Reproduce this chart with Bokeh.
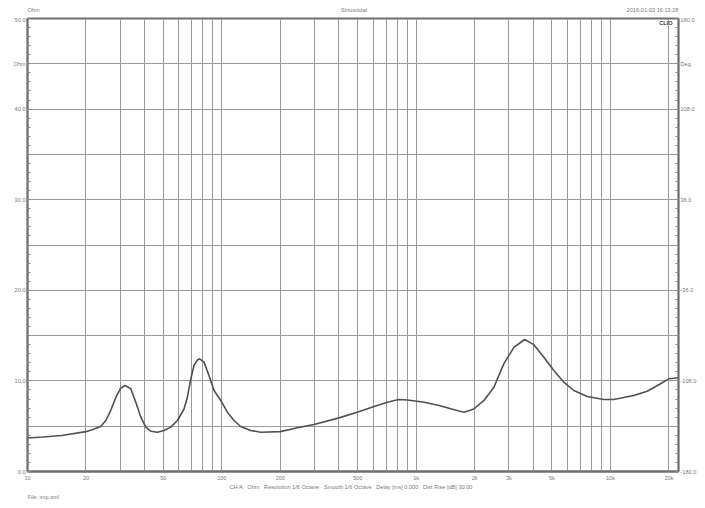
from bokeh.plotting import figure
from bokeh.models import Range1d, LinearAxis, FixedTicker, Label
from bokeh.layouts import column
from bokeh.embed import file_html
from bokeh.resources import INLINE

# ---- data ----
freq_hz = [10, 12, 15, 20, 22, 23.8, 25.3, 26.8, 28.5, 30.2, 31.8, 34.0, 36.1, 38.3,
           40.6, 43.1, 46.6, 50.4, 54.6, 59.1, 63.9, 66.5, 69.2, 71.9, 74.9, 76.9,
           81.0, 85.9, 91.2, 98.7, 106.9, 115.6, 125, 140.8, 158.5, 200, 245, 298,
           401, 497, 608, 711, 813, 903, 1100, 1330, 1570, 1763, 1983, 2233, 2513,
           2829, 3186, 3615, 4036, 4544, 5115, 5757, 6481, 7598, 9247, 10410, 13180,
           15450, 18100, 20000, 22400]
impedance_ohm = [3.70, 3.80, 3.98, 4.40, 4.70, 4.97, 5.63, 6.73, 8.2, 9.2, 9.49, 9.13,
                 7.65, 6.0, 4.9, 4.45, 4.34, 4.53, 4.9, 5.63, 6.9, 8.2, 10.2, 11.7,
                 12.3, 12.44, 12.07, 10.6, 8.94, 7.84, 6.55, 5.63, 4.97, 4.53, 4.34,
                 4.40, 4.82, 5.19, 5.92, 6.55, 7.17, 7.65, 7.95, 7.90, 7.65, 7.25,
                 6.81, 6.55, 6.90, 7.84, 9.3, 11.9, 13.7, 14.57, 14.0, 12.6, 11.15,
                 9.86, 8.94, 8.28, 7.95, 7.95, 8.39, 8.86, 9.68, 10.23, 10.35]

x_label_ticks = [10, 20, 50, 100, 200, 500, 1000, 2000, 3000, 5000, 10000, 20000]
x_label_texts = ["10", "20", "50", "100", "200", "500", "1k", "2k", "3k", "5k", "10k", "20k"]
x_grid_ticks = [10, 20, 30, 40, 50, 60, 70, 80, 90, 100, 200, 300, 400, 500, 600, 700,
                800, 900, 1000, 2000, 3000, 4000, 5000, 6000, 7000, 8000, 9000, 10000,
                20000]
left_ticks = [0, 10, 20, 30, 40, 45, 50]
left_texts = ["0.0", "10.0", "20.0", "30.0", "40.0", "Ohm", "50.0"]
right_ticks = [-180, -108, -36, 36, 108, 144, 180]
right_texts = ["-180.0", "-108.0", "-36.0", "36.0", "108.0", "Deg", "180.0"]

header_left = "Ohm"
header_center = "Sinusoidal"
header_right = "2016-01-03 16:13:28"
footer_parts = ["CH A", "Ohm", "Resolution 1/6 Octave", "Smooth 1/6 Octave",
                "Delay [ms] 0.000", "Dist Rise [dB] 30.00"]
footer_file = "File: imp.sml"

X_MIN, X_MAX = 10, 22400
W = 705
BL, BR = 27, 27
FONT = "Liberation Sans"
TXT = "#7a7a7a"
FS = "5.6px"

xr = Range1d(X_MIN, X_MAX)

# ---- main plot ----
p = figure(width=W, height=467, x_axis_type="log",
           x_range=xr, y_range=Range1d(0, 50),
           output_backend="svg", toolbar_location=None,
           min_border_left=BL, min_border_right=BR, min_border_top=2,
           min_border_bottom=12)
p.background_fill_color = "white"
p.border_fill_color = "white"
p.outline_line_color = "#6e6e6e"
p.outline_line_width = 2

p.xgrid.ticker = FixedTicker(ticks=x_grid_ticks)
p.ygrid.ticker = FixedTicker(ticks=list(range(0, 51, 5)))
for g in (p.xgrid, p.ygrid):
    g.grid_line_color = "#9a9a9a"
    g.grid_line_width = 1

xa = p.xaxis[0]
xa.ticker = FixedTicker(ticks=x_label_ticks)
xa.major_label_overrides = {t: s for t, s in zip(x_label_ticks, x_label_texts)}
xa.major_tick_in = 0
xa.major_tick_out = 0
xa.minor_tick_in = 0
xa.minor_tick_out = 0
xa.axis_line_color = "#6e6e6e"
xa.axis_line_width = 2
xa.major_label_standoff = 3

ya = p.yaxis[0]
ya.ticker = FixedTicker(ticks=left_ticks, minor_ticks=list(range(0, 51)))
ya.major_label_overrides = {t: s for t, s in zip(left_ticks, left_texts)}

p.extra_y_ranges = {"deg": Range1d(-180, 180)}
ra = LinearAxis(y_range_name="deg",
                ticker=FixedTicker(ticks=right_ticks,
                                   minor_ticks=[-180 + 7.2 * i for i in range(51)]))
ra.major_label_overrides = {t: s for t, s in zip(right_ticks, right_texts)}
p.add_layout(ra, "right")

for ax in (ya, ra):
    ax.major_tick_in = 3
    ax.major_tick_out = 0
    ax.minor_tick_in = 3
    ax.minor_tick_out = 0
    ax.major_tick_line_color = "#8a8a8a"
    ax.minor_tick_line_color = "#8a8a8a"
    ax.axis_line_color = "#6e6e6e"
    ax.axis_line_width = 1.5
    ax.major_label_standoff = 2

for ax in (xa, ya, ra):
    ax.major_label_text_font = FONT
    ax.major_label_text_font_size = FS
    ax.major_label_text_color = TXT

p.line(freq_hz, impedance_ohm, line_color="#505050", line_width=1.6)

p.add_layout(Label(x=X_MAX, y=50, text="CLIO", text_align="right",
                   text_baseline="middle", x_offset=-6, y_offset=-4.5,
                   text_font=FONT, text_font_size=FS, text_font_style="bold",
                   text_color="#404040"))


def strip(h):
    f = figure(width=W, height=h, x_axis_type="log", x_range=xr,
               y_range=Range1d(h, 0), output_backend="svg", toolbar_location=None,
               x_axis_location=None, y_axis_location=None,
               min_border_left=BL, min_border_right=BR, min_border_top=0,
               min_border_bottom=0)
    f.outline_line_color = None
    f.grid.visible = False
    f.background_fill_color = "white"
    f.border_fill_color = "white"
    return f


def lab(f, x, y, text, align):
    f.add_layout(Label(x=x, y=y, text=text, text_align=align, text_baseline="middle",
                       text_font=FONT, text_font_size=FS, text_color=TXT))


# ---- header ----
hdr = strip(16)
lab(hdr, X_MIN, 9, header_left, "left")
lab(hdr, 478, 9, header_center, "center")
lab(hdr, X_MAX, 9, header_right, "right")

# ---- footer ----
ftr = strip(25)
gap = "\u00a0\u00a0\u00a0"
lab(ftr, 463, 3.8, gap.join(footer_parts), "center")
lab(ftr, X_MIN, 13.8, footer_file, "left")

layout = column(hdr, p, ftr, spacing=0)
open("out.html", "w").write(file_html(layout, INLINE))
